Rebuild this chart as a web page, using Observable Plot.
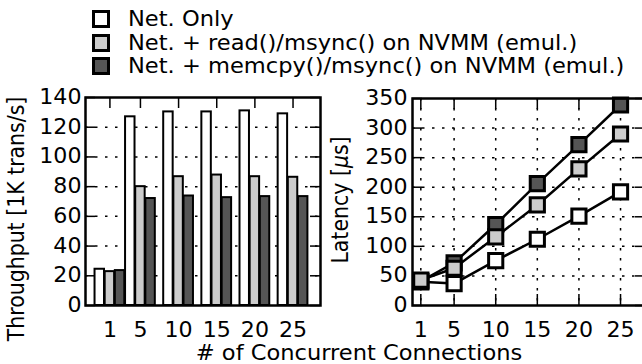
<!DOCTYPE html>
<html>
<head>
<meta charset="utf-8">
<script src="https://cdn.jsdelivr.net/npm/d3@7"></script>
<script src="https://cdn.jsdelivr.net/npm/@observablehq/plot@0.6"></script>
<style>
  html, body { margin: 0; padding: 0; background: #fff; }
  #wrap { position: relative; width: 642px; height: 364px; overflow: hidden; font-family: "DejaVu Sans", sans-serif; }
  #wrap > * { position: absolute; }
  .leg { left: 92px; height: 24px; display: flex; align-items: center; font-size: 20.5px; color: #000; white-space: nowrap; }
  .leg .sw { width: 12px; height: 12px; border: 3px solid #000; margin-right: 18px; flex: none; }
  .leg .tx { display: inline-block; transform: scaleX(1.1); transform-origin: left center; }
</style>
</head>
<body>
<div id="wrap"></div>
<script>
// ---------- data ----------
const conns = [1, 5, 10, 15, 20, 25];
const seriesNames = ["Net. Only", "Net. + read()/msync() on NVMM (emul.)", "Net. + memcpy()/msync() on NVMM (emul.)"];
const seriesFill = ["#ffffff", "#cccccc", "#555555"];
const throughputNet = [24.4, 127, 130.3, 130.3, 131, 129];
const throughputRead = [22.8, 80, 86.7, 87.8, 86.7, 86.3];
const throughputMemcpy = [23.5, 72, 73.7, 72.6, 73.3, 73.3];
const latencyNet = [40, 37, 76, 112, 151, 192];
const latencyRead = [43, 63, 116, 170, 231, 290];
const latencyMemcpy = [41, 72, 137, 206, 272, 339];
const yTicksThr = [0, 20, 40, 60, 80, 100, 120, 140];
const yTicksLat = [0, 50, 100, 150, 200, 250, 300, 350];
const xTicks = [1, 5, 10, 15, 20, 25];

const thrSeries = [throughputNet, throughputRead, throughputMemcpy];
const latSeries = [latencyNet, latencyRead, latencyMemcpy];
const barOffset = [-1.33, 0, 1.33];
const barHalf = 0.62;

const thrData = [];
thrSeries.forEach((vals, s) => vals.forEach((v, i) => thrData.push({conn: conns[i], value: v, s})));
const latData = [];
latSeries.forEach((vals, s) => vals.forEach((v, i) => latData.push({conn: conns[i], value: v, s})));
// marker draw order: white, dark, light
const dotOrder = [0, 2, 1];
const latDots = dotOrder.flatMap(s => latData.filter(d => d.s === s));

const wrap = document.getElementById("wrap");
const font = {fontFamily: "DejaVu Sans", fontSize: "20.5px", background: "transparent", overflow: "visible"};
const dash = "2.5,7.5";
const stretch = 1.08;

// widen the tick label glyphs slightly, like the reference
function stretchTicks(svg) {
  svg.querySelectorAll("g[aria-label$='tick label'] text").forEach(t => {
    const tr = t.getAttribute("transform") || "";
    t.setAttribute("transform", tr + ` scale(${stretch},1)`);
  });
}

// ---------- left: throughput bars ----------
{
  const W = 330, H = 279, mL = 85, mR = 10, mT = 12, mB = 59;
  const fw = W - mL - mR, fh = H - mT - mB;
  const chart = Plot.plot({
    width: W, height: H, marginLeft: mL, marginRight: mR, marginTop: mT, marginBottom: mB,
    style: font,
    x: {domain: [-2.2, 28.6], axis: null},
    y: {domain: [0, 140], axis: null},
    marks: [
      Plot.ruleY(yTicksThr.slice(1, -1), {y: d => d, stroke: "#000", strokeWidth: 1.5, strokeDasharray: dash}),
      Plot.tickY(yTicksThr, {y: d => d, stroke: "#000", strokeWidth: 1.5, insetRight: fw - 10}),
      Plot.tickY(yTicksThr, {y: d => d, stroke: "#000", strokeWidth: 1.5, insetLeft: fw - 10}),
      Plot.tickX(xTicks, {x: d => d, stroke: "#000", strokeWidth: 1.5, insetBottom: fh - 11}),
      Plot.tickX(xTicks, {x: d => d, stroke: "#000", strokeWidth: 1.5, insetTop: fh - 11}),
      Plot.rectY(thrData, {
        x1: d => d.conn + barOffset[d.s] - barHalf,
        x2: d => d.conn + barOffset[d.s] + barHalf,
        y1: 0, y2: "value",
        fill: d => seriesFill[d.s], stroke: "#000", strokeWidth: 2
      }),
      Plot.axisY({ticks: yTicksThr, tickSize: 0, tickPadding: 4, label: null, tickFormat: d => d}),
      Plot.axisX({ticks: xTicks, tickSize: 0, tickPadding: 17, label: null, tickFormat: d => d}),
      Plot.frame({stroke: "#000", strokeWidth: 2.5})
    ]
  });
  stretchTicks(chart);
  chart.style.left = "0px";
  chart.style.top = "85px";
  wrap.appendChild(chart);
}

// ---------- right: latency lines ----------
{
  const W = 340, H = 279, mL = 92, mR = 15, mT = 13, mB = 59;
  const fw = W - mL - mR, fh = H - mT - mB;
  const chart = Plot.plot({
    width: W, height: H, marginLeft: mL, marginRight: mR, marginTop: mT, marginBottom: mB,
    style: font,
    x: {domain: [0, 28], axis: null},
    y: {domain: [0, 350], axis: null},
    marks: [
      Plot.ruleY(yTicksLat.slice(1, -1), {y: d => d, stroke: "#000", strokeWidth: 1.5, strokeDasharray: dash}),
      Plot.ruleX(xTicks, {x: d => d, stroke: "#000", strokeWidth: 1.5, strokeDasharray: dash}),
      Plot.tickY(yTicksLat, {y: d => d, stroke: "#000", strokeWidth: 1.5, insetRight: fw - 10}),
      Plot.tickY(yTicksLat, {y: d => d, stroke: "#000", strokeWidth: 1.5, insetLeft: fw - 10}),
      Plot.tickX(xTicks, {x: d => d, stroke: "#000", strokeWidth: 1.5, insetBottom: fh - 11}),
      Plot.tickX(xTicks, {x: d => d, stroke: "#000", strokeWidth: 1.5, insetTop: fh - 11}),
      Plot.line(latData, {x: "conn", y: "value", z: "s", stroke: "#000", strokeWidth: 2.5}),
      Plot.dot(latDots, {x: "conn", y: "value", symbol: "square", r: 8, fill: d => seriesFill[d.s], stroke: "#000", strokeWidth: 3}),
      Plot.axisY({ticks: yTicksLat, tickSize: 0, tickPadding: 5, label: null, tickFormat: d => d}),
      Plot.axisX({ticks: xTicks, tickSize: 0, tickPadding: 17, label: null, tickFormat: d => d}),
      Plot.frame({stroke: "#000", strokeWidth: 2.5})
    ]
  });
  stretchTicks(chart);
  chart.style.left = "320px";
  chart.style.top = "85px";
  wrap.appendChild(chart);
}

// ---------- titles ----------
{
  const ns = "http://www.w3.org/2000/svg";
  const svg = document.createElementNS(ns, "svg");
  svg.setAttribute("width", 642); svg.setAttribute("height", 364);
  svg.style.left = "0px"; svg.style.top = "0px"; svg.style.pointerEvents = "none";
  svg.setAttribute("font-family", "DejaVu Sans");
  svg.setAttribute("font-size", 20.5);
  svg.innerHTML = `
    <text text-anchor="middle" transform="translate(24,219) scale(1.1,1) rotate(-90)">Throughput [1K trans/s]</text>
    <text text-anchor="middle" transform="translate(348,200) scale(1.1,1) rotate(-90)">Latency [<tspan font-style="italic">μ</tspan>s]</text>
    <text text-anchor="middle" transform="translate(359,360) scale(1.1,1)">#&#160;of Concurrent Connections</text>`;
  wrap.appendChild(svg);
}

// ---------- legend ----------
seriesNames.forEach((name, i) => {
  const row = document.createElement("div");
  row.className = "leg";
  row.style.top = (7 + i * 23.5) + "px";
  const sw = document.createElement("span");
  sw.className = "sw";
  sw.style.background = seriesFill[i];
  const tx = document.createElement("span");
  tx.className = "tx";
  tx.textContent = name;
  row.appendChild(sw); row.appendChild(tx);
  wrap.appendChild(row);
});
</script>
</body>
</html>
